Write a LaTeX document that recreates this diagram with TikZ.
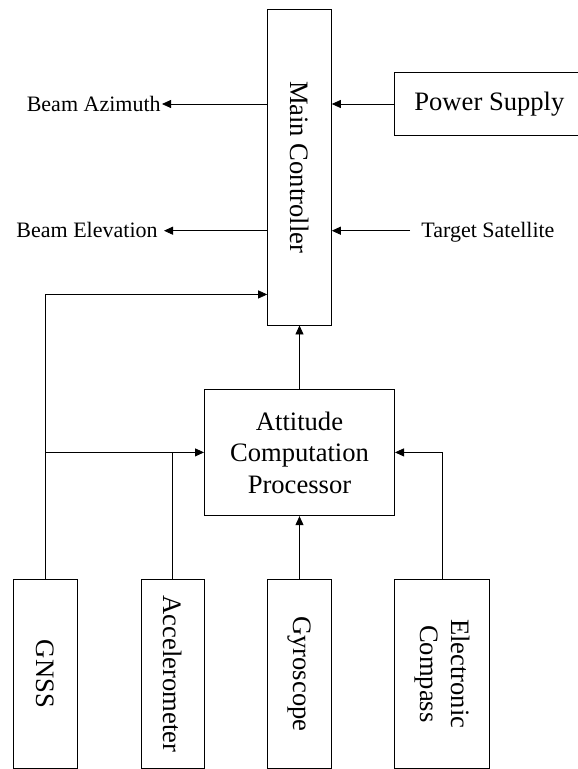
\documentclass[tikz,border=0pt]{standalone}
\usepackage{fontspec}
\setmainfont{Liberation Serif}
\usepackage{graphicx}
\usetikzlibrary{arrows.meta,positioning}

\begin{document}
\begin{tikzpicture}[->,>={Triangle[length=9pt,width=8pt]}, line width=0.8pt,
x=1pt, y=-1pt,
block/.style={draw, -, rectangle, inner sep=0pt, font=\fontsize{26.6}{31.5}\selectfont},
side/.style={inner sep=0pt, text height=14pt, text depth=0pt, font=\fontsize{22}{26}\selectfont}]

\useasboundingbox (0,0) rectangle (578,769);
\clip (0,0) rectangle (578,769);

\node [block, minimum width=63.8pt, minimum height=315.7pt] (main) at (299.5,167.2) {\rotatebox{-90}{Main Controller}};
\node [block, minimum width=189.2pt, minimum height=63.4pt] (power) at (489.4,104) {Power Supply};
\node [block, minimum width=190.2pt, minimum height=126.7pt, align=center] (acp) [below of=main, node distance=285.2pt] {Attitude\\Computation\\Processor};

\node [block, minimum width=63.8pt, minimum height=189pt] (gyro) [below of=acp, node distance=221.4pt] {\rotatebox{-90}{Gyroscope}};
\node [block, minimum width=64.4pt, minimum height=189pt] (gnss) [left of=gyro, node distance=254pt] {\rotatebox{-90}{GNSS}};
\node [block, minimum width=63.5pt, minimum height=189pt] (accel) [left of=gyro, node distance=126.8pt] {\rotatebox{-90}{Accelerometer}};
\node [block, minimum width=95.3pt, minimum height=189pt] (compass) [right of=gyro, node distance=142.7pt] {\rotatebox{-90}{\begin{tabular}{@{}c@{}}Electronic\\Compass\end{tabular}}};

\node [side, anchor=east] (azi) at (161,104) {Beam Azimuth};
\node [side, anchor=east] (elev) at (158,230.7) {Beam Elevation};
\node [side, anchor=west] (sat) at (421,230.7) {Target Satellite};

\draw (main.west |- azi.east) -- ([xshift=1pt]azi.east);
\draw (main.west |- elev.east) -- ([xshift=6pt]elev.east);
\draw (power.west) -- (main.east |- power.west);
\draw ([xshift=-11pt]sat.west) -- (main.east |- sat.west);

\draw (acp.north) -- (main.south);
\draw (gnss.north) |- ([yshift=31pt]main.south west);
\draw (gnss.north |- acp.west) -- (acp.west);
\draw [-] (accel.north) -- (accel.north |- acp.west);
\draw (gyro.north) -- (acp.south);
\draw (compass.north) |- (acp.east);

\end{tikzpicture}
\end{document}
